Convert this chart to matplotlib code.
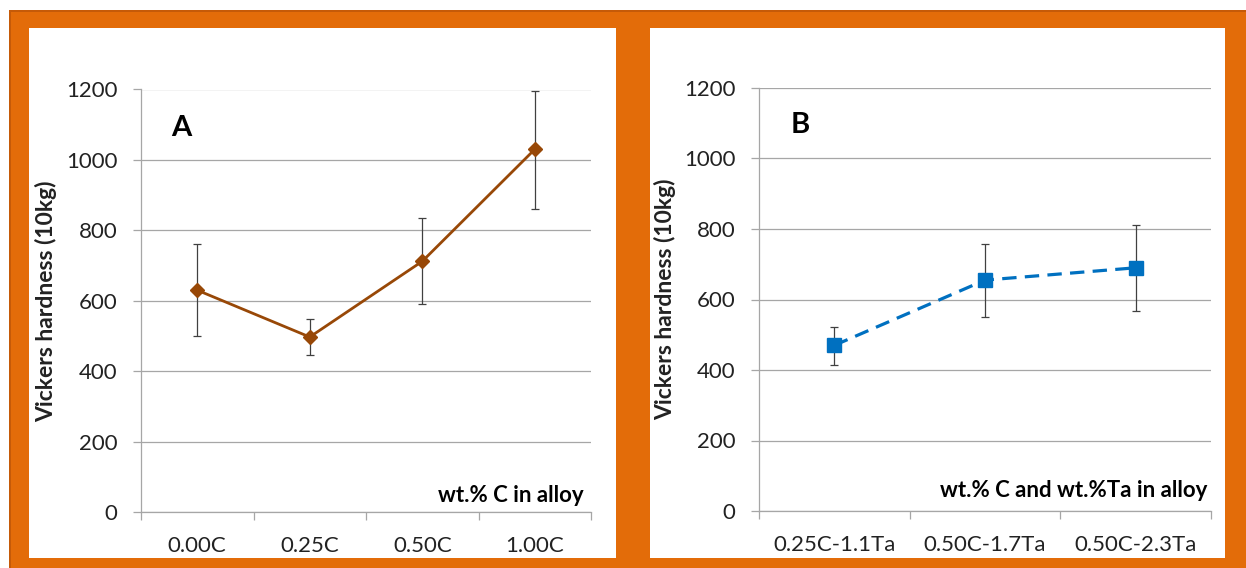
import matplotlib
matplotlib.use('Agg')
import matplotlib.pyplot as plt
from matplotlib.patches import Rectangle

# Panel A data
cats_a = ['0.00C', '0.25C', '0.50C', '1.00C']
hv_a = [630, 497, 712, 1030]
err_lo_a = [130, 50, 122, 168]
err_hi_a = [130, 51, 123, 165]

# Panel B data
cats_b = ['0.25C-1.1Ta', '0.50C-1.7Ta', '0.50C-2.3Ta']
hv_b = [470, 655, 690]
err_lo_b = [57, 105, 122]
err_hi_b = [52, 103, 122]

yticks = [0, 200, 400, 600, 800, 1000, 1200]

ORANGE = '#E36C09'
BROWN = '#984807'
BLUE = '#0070C0'
GRID = '#A6A6A6'
TEXT = '#222222'

plt.rcParams['font.family'] = ['Lato', 'DejaVu Sans']

W, H = 1246, 568
fig = plt.figure(figsize=(W / 100, H / 100), dpi=100, facecolor='white')


def px_rect(x0, y0, x1, y1, color, z):
    fig.patches.append(Rectangle((x0 / W, 1 - y1 / H), (x1 - x0) / W, (y1 - y0) / H,
                                 transform=fig.transFigure, facecolor=color,
                                 edgecolor='none', zorder=z))


# orange frame and white panels
px_rect(9, 10, 1246, 568, '#C55A08', -3)
px_rect(11, 12, 1246, 568, ORANGE, -2)
px_rect(29, 28, 616, 558, 'white', -1)
px_rect(650, 28, 1225, 558, 'white', -1)


def make_panel(rect, cats, vals, lo, hi, color, marker, msize, ls, letter, xlabel,
               letter_xy, xlabel_xy, ylabel_x):
    ax = fig.add_axes(rect)
    ax.set_facecolor('none')
    n = len(cats)
    x = list(range(n))
    ax.errorbar(x, vals, yerr=[lo, hi], fmt='none', ecolor='#404040',
                elinewidth=0.9, capsize=3, capthick=0.9, zorder=3)
    line, = ax.plot(x, vals, color=color, linestyle=ls, linewidth=2.0 if ls == '-' else 2.3,
                    marker=marker, markersize=msize, markerfacecolor=color,
                    markeredgecolor=color, zorder=4)
    if ls != '-':
        line.set_dashes((4.5, 2.6))

    ax.set_xlim(-0.5, n - 0.5)
    ax.set_ylim(0, 1200)
    ax.set_yticks(yticks)
    ax.set_yticklabels([str(v) for v in yticks], fontsize=16, color=TEXT)
    ax.grid(axis='y', color=GRID, linewidth=0.9)
    ax.set_axisbelow(True)

    # category boundaries as ticks, labels at centres
    ax.set_xticks([i - 0.5 for i in range(n + 1)])
    ax.set_xticklabels([])
    ax.set_xticks(x, minor=True)
    ax.set_xticklabels(cats, minor=True, fontsize=16, color=TEXT)
    ax.tick_params(axis='x', which='major', length=6, width=0.9, color=GRID, direction='out')
    ax.tick_params(axis='x', which='minor', length=0, pad=17)
    ax.tick_params(axis='y', length=6, width=0.9, color=GRID, pad=11)

    for s in ['top', 'right']:
        ax.spines[s].set_visible(False)
    for s in ['left', 'bottom']:
        ax.spines[s].set_color(GRID)
        ax.spines[s].set_linewidth(0.9)

    ax.set_ylabel('Vickers hardness (10kg)', fontsize=16.5, fontweight='bold', color=TEXT)
    ax.yaxis.set_label_coords(ylabel_x, 0.5)
    ax.text(letter_xy[0], letter_xy[1], letter, transform=ax.transAxes, fontsize=21,
            fontweight='bold', ha='left', va='center', color='black')
    ax.text(xlabel_xy[0], xlabel_xy[1], xlabel, transform=ax.transAxes, fontsize=16,
            fontweight='bold', ha='right', va='center', color='black')
    return ax


make_panel([141 / W, 1 - 512 / H, 450 / W, 422.5 / H], cats_a, hv_a, err_lo_a, err_hi_a,
           BROWN, 'D', 7, '-', 'A', 'wt.% C in alloy', (0.067, 0.909), (0.984, 0.04), -0.187)
make_panel([759 / W, 1 - 511 / H, 452 / W, 423 / H], cats_b, hv_b, err_lo_b, err_hi_b,
           BLUE, 's', 9.5, '--', 'B', 'wt.% C and wt.%Ta in alloy', (0.069, 0.9125),
           (0.991, 0.048), -0.184)

fig.savefig('out.png', dpi=100, facecolor=fig.get_facecolor())
